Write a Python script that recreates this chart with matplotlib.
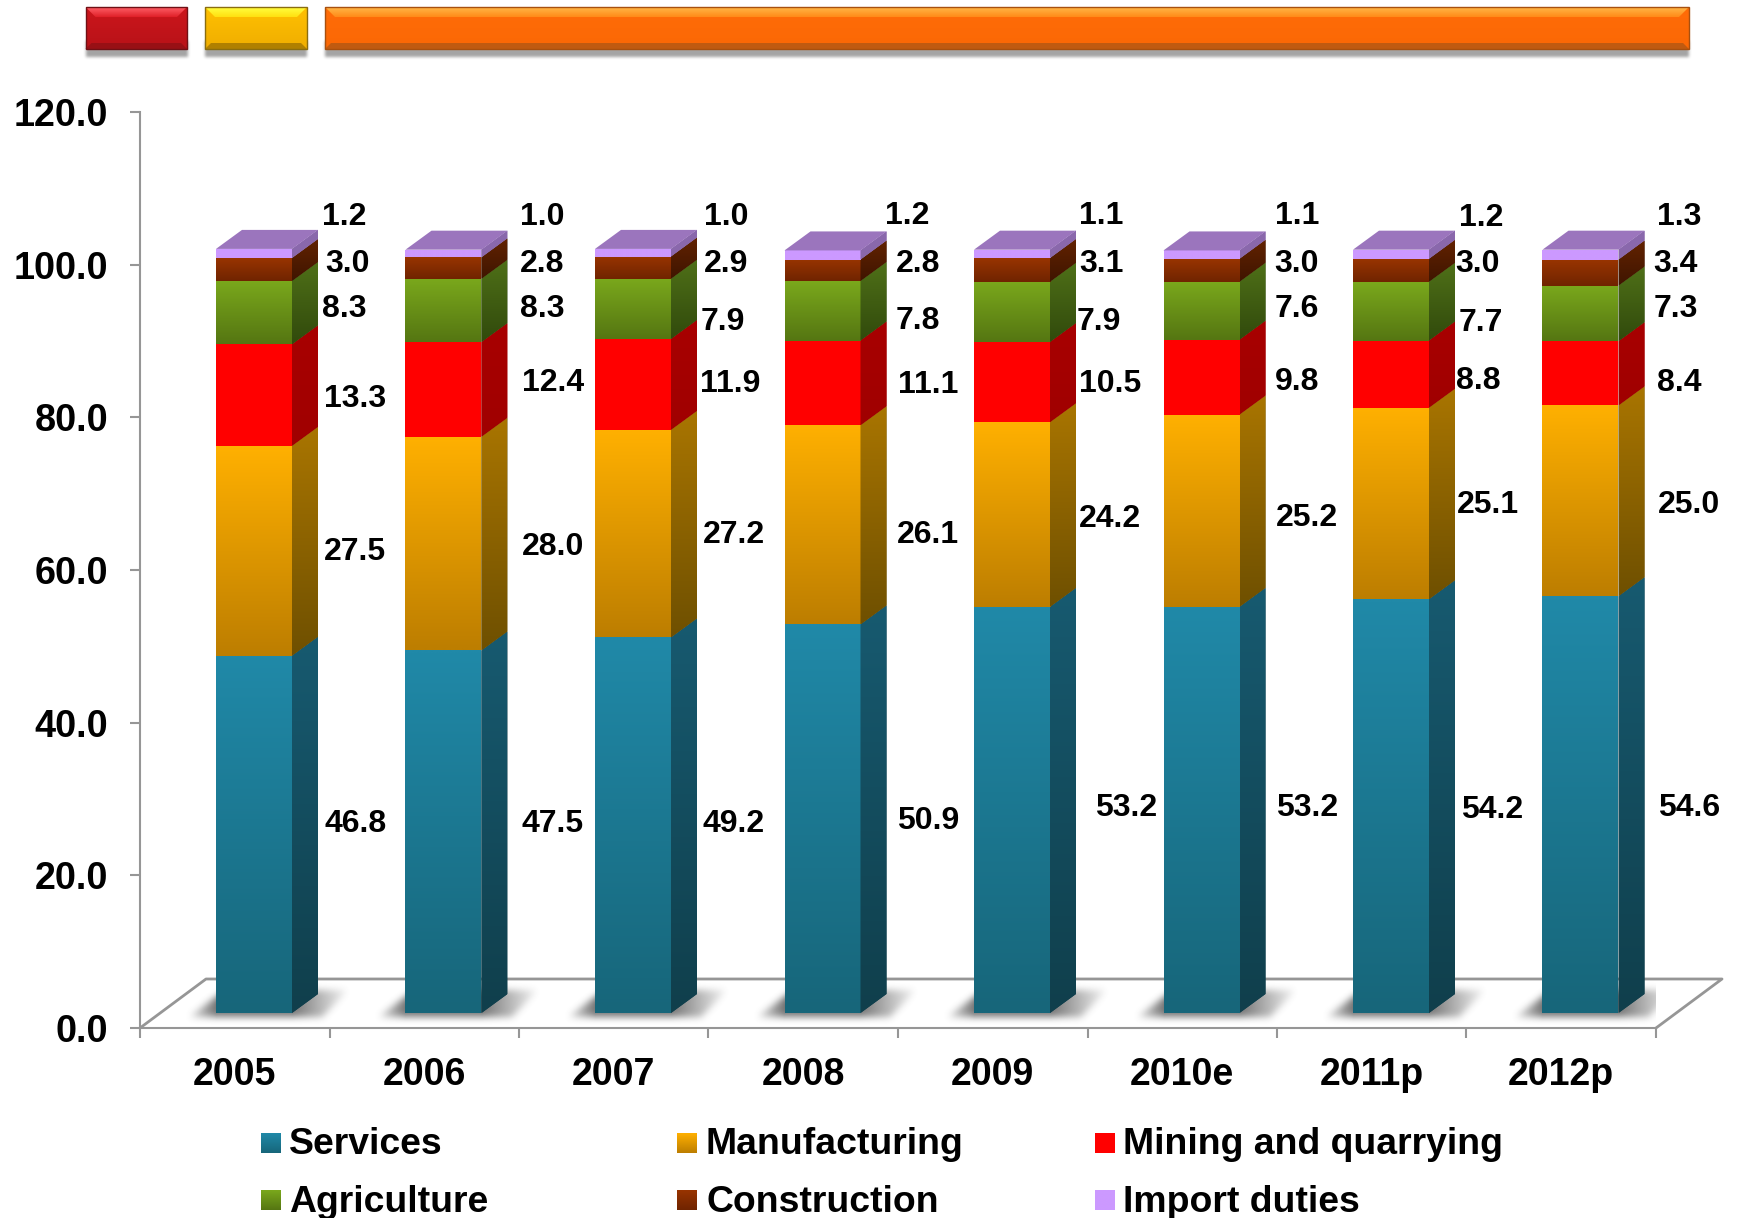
import numpy as np
import matplotlib
matplotlib.use('Agg')
import matplotlib.pyplot as plt
from matplotlib.colors import to_rgb
from matplotlib.patches import Polygon

plt.rcParams['font.family'] = ['Liberation Sans', 'DejaVu Sans']
plt.rcParams['font.weight'] = 'bold'

# data
years = ['2005', '2006', '2007', '2008', '2009', '2010e', '2011p', '2012p']
services = [46.8, 47.5, 49.2, 50.9, 53.2, 53.2, 54.2, 54.6]
manufacturing = [27.5, 28.0, 27.2, 26.1, 24.2, 25.2, 25.1, 25.0]
mining = [13.3, 12.4, 11.9, 11.1, 10.5, 9.8, 8.8, 8.4]
agriculture = [8.3, 8.3, 7.9, 7.8, 7.9, 7.6, 7.7, 7.3]
construction = [3.0, 2.8, 2.9, 2.8, 3.1, 3.0, 3.0, 3.4]
import_duties = [1.2, 1.0, 1.0, 1.2, 1.1, 1.1, 1.2, 1.3]
y_ticks = [0, 20, 40, 60, 80, 100, 120]
series_names = ['Services', 'Manufacturing', 'Mining and quarrying',
                'Agriculture', 'Construction', 'Import duties']
series_values = [services, manufacturing, mining, agriculture, construction, import_duties]

# colours: front top, front bottom, side top, side bottom
series_colors = [
    ('#2089a8', '#17667a', '#175a70', '#103f4c'),
    ('#ffb000', '#bd7e00', '#a97500', '#6f5000'),
    ('#ff0000', '#ff0000', '#a80000', '#a00000'),
    ('#7aa81c', '#557612', '#4f7018', '#314a0c'),
    ('#983400', '#702400', '#622200', '#3f1500'),
    ('#cc99ff', '#cc99ff', '#8a68ac', '#8a68ac'),
]
top_color = '#9b75bd'

# hand placed data labels in the picture, one row per series, pixels of the 1568 wide view
label_x = [
    [320, 498, 661, 836, 1014, 1177, 1344, 1521],
    [320, 498, 661, 836, 1000, 1177, 1340, 1521],
    [320, 498, 658, 836, 1000, 1168, 1331, 1512],
    [310, 488, 651, 827, 990, 1168, 1334, 1509],
    [313, 488, 654, 827, 992, 1168, 1331, 1509],
    [310, 488, 654, 817, 992, 1168, 1334, 1512],
]
label_y = [
    [739, 739, 739, 737, 725, 725, 727, 725],
    [494, 490, 479, 479, 465, 464, 452, 452],
    [357, 342, 343, 344, 343, 341, 340, 342],
    [276, 276, 287, 286, 287, 276, 288, 276],
    [235, 235, 235, 235, 235, 235, 235, 235],
    [193, 193, 193, 192, 192, 192, 194, 193],
]
view_scale = 1741 / 1568

# layout in figure pixels
axis_left, axis_right, axis_bottom, axis_top = 140, 1656, 1028, 112
px_per_slot = (axis_right - axis_left) / 8
px_per_unit = (axis_bottom - axis_top) / 120
bar_offset = 76 / px_per_slot
bar_width = 76 / px_per_slot
depth_x = 26 / px_per_slot
depth_y = 19 / px_per_unit
bar_base = 15 / px_per_unit
floor_dx = 66 / px_per_slot
floor_dy = 49 / px_per_unit
axis_color = '#969696'


def gradient(ax, extent, top, bottom, clip=None, zorder=3):
    t = np.linspace(0, 1, 64)[:, None, None]
    rgb = (1 - t) * np.array(to_rgb(top)) + t * np.array(to_rgb(bottom))
    im = ax.imshow(rgb, extent=extent, origin='upper', aspect='auto',
                   interpolation='bilinear', zorder=zorder)
    if clip is not None:
        im.set_clip_path(clip)
    return im


def blur(a, size):
    kernel = np.ones(size) / size
    for _ in range(3):
        a = np.apply_along_axis(lambda r: np.convolve(r, kernel, mode='same'), 0, a)
        a = np.apply_along_axis(lambda r: np.convolve(r, kernel, mode='same'), 1, a)
    return a


def make_floor_shadow():
    # pixel grid around a bar: x -60..170 from the bar's left edge, y 975..1027
    xx, yy = np.meshgrid(np.arange(-60, 170), np.arange(975, 1027))
    t = (yy - 990) / 26
    inside = (t >= 0) & (t <= 1) & (xx >= 8 - 36 * t) & (xx <= 132 - 26 * t)
    a = blur(inside.astype(float), 7)
    fade = np.clip((xx + 34) / 34, 0, 1) * np.clip((136 - xx) / 60, 0, 1)
    out = np.zeros(a.shape + (4,))
    out[..., :3] = 0.33
    out[..., 3] = a * fade * 0.8
    return out


def bevel_box(ax, x0, x1, y0, y1, colors):
    light_top, light_bot, mid, mid_bot, dark, edge = colors
    b = 10
    # soft shadow below the box
    sh = np.zeros((30, int(x1 - x0) + 16))
    sh[8:24, 8:-8] = 1
    sh = blur(sh, 3)
    rgba = np.zeros(sh.shape + (4,))
    rgba[..., :3] = 0.35
    rgba[..., 3] = sh * 0.55
    ax.imshow(rgba, extent=(x0 - 8, x1 + 8, y1 + 14, y1 - 16), origin='upper',
              aspect='auto', zorder=1)
    p = Polygon([(x0, y0), (x1, y0), (x1, y1), (x0, y1)], fc='none', ec=edge, lw=1.0, zorder=3)
    ax.add_patch(p)
    gradient(ax, (x0, x1, y1, y0), mid, mid_bot, clip=p, zorder=2.5)
    tp = Polygon([(x0, y0), (x1, y0), (x1 - b, y0 + b), (x0 + b, y0 + b)], fc='none', ec='none', zorder=2)
    ax.add_patch(tp)
    gradient(ax, (x0, x1, y0 + b, y0), light_top, light_bot, clip=tp, zorder=2.6)
    bt = Polygon([(x0, y1), (x1, y1), (x1 - 6, y1 - 6), (x0 + 6, y1 - 6)], fc=dark, ec='none', zorder=2.7)
    ax.add_patch(bt)


fig = plt.figure(figsize=(17.41, 12.18), dpi=100)

# pixel overlay for the banner, legend and hand placed labels
over = fig.add_axes([0, 0, 1, 1], zorder=2)
over.patch.set_alpha(0)
over.axis('off')

bevel_box(over, 85.5, 187, 7, 49, ('#ff6068', '#e02028', '#cc161c', '#b81218', '#981015', '#701015'))
bevel_box(over, 205, 307, 7, 49, ('#ffff40', '#ffe010', '#ffc000', '#f0ae00', '#b08000', '#8a6d10'))
bevel_box(over, 325, 1689, 7, 49, ('#ffb848', '#ff8a18', '#ff6c08', '#fb6805', '#c05a10', '#a8500f'))

# main chart
ax = fig.add_axes([axis_left / 1741, 1 - axis_bottom / 1218,
                   (axis_right - axis_left) / 1741, (axis_bottom - axis_top) / 1218], zorder=1)
ax.patch.set_alpha(0)

# floor of the 3D box
ax.plot([0, floor_dx, 8 + floor_dx, 8], [0, floor_dy, floor_dy, 0],
        color=axis_color, lw=2, clip_on=False, zorder=1)

x = np.arange(len(years))
shadow = make_floor_shadow()
for i in x:
    left = i + bar_offset
    ax.imshow(shadow, extent=(left - 60 / px_per_slot, left + 170 / px_per_slot,
                              (1028 - 1027) / px_per_unit, (1028 - 975) / px_per_unit),
              origin='upper', aspect='auto', zorder=2, interpolation='bilinear')

bottom = np.full(len(years), bar_base)
for values, colors in zip(series_values, series_colors):
    values = np.array(values)
    bars = ax.bar(x + bar_offset + bar_width / 2, values, bar_width, bottom=bottom,
                  color=colors[0], linewidth=0, zorder=3)
    for b, v, y0 in zip(bars, values, bottom):
        x0, x1 = b.get_x(), b.get_x() + b.get_width()
        gradient(ax, (x0, x1, y0, y0 + v), colors[0], colors[1], clip=b, zorder=3.1)
        side = Polygon([(x1, y0), (x1 + depth_x, y0 + depth_y),
                        (x1 + depth_x, y0 + v + depth_y), (x1, y0 + v)],
                       fc=colors[3], ec='none', zorder=3)
        ax.add_patch(side)
        gradient(ax, (x1, x1 + depth_x, y0, y0 + v + depth_y), colors[2], colors[3], clip=side, zorder=3.1)
    bottom = bottom + values

# top face of each stack
for i, top in zip(x, bottom):
    x0 = i + bar_offset
    x1 = x0 + bar_width
    ax.add_patch(Polygon([(x0, top), (x1, top), (x1 + depth_x, top + depth_y), (x0 + depth_x, top + depth_y)],
                         fc=top_color, ec='none', zorder=3.2))

ax.set_xlim(0, 8)
ax.set_ylim(0, 120)
ax.spines['top'].set_visible(False)
ax.spines['right'].set_visible(False)
ax.spines['left'].set_color(axis_color)
ax.spines['bottom'].set_color(axis_color)
ax.spines['left'].set_linewidth(1.5)
ax.spines['bottom'].set_linewidth(1.5)
ax.set_yticks(y_ticks)
ax.set_yticklabels(['%.1f' % t for t in y_ticks], fontsize=27.2, fontweight='bold')
ax.set_xticks(np.arange(9))
ax.set_xticklabels([])
ax.set_xticks(x + 0.5, minor=True)
ax.set_xticklabels(years, minor=True, fontsize=27, fontweight='bold')
ax.tick_params(axis='y', length=7, width=1.5, color=axis_color, pad=16)
ax.tick_params(axis='x', which='major', length=7, width=1.5, color=axis_color)
ax.tick_params(axis='x', which='minor', length=0, pad=21)

# data labels
for vals, xs, ys in zip(series_values, label_x, label_y):
    for v, lx, ly in zip(vals, xs, ys):
        over.text(lx * view_scale, ly * view_scale + 3, '%.1f' % v, fontsize=23, fontweight='bold',
                  ha='center', va='center', color='black', zorder=6)

# legend
legend_x = [261, 677, 1095]
legend_text_x = [289, 706, 1123]
legend_y = [1143, 1200]
for n, (name, colors) in enumerate(zip(series_names, series_colors)):
    col, row = n % 3, n // 3
    sx, sy = legend_x[col], legend_y[row]
    gradient(over, (sx, sx + 20, sy + 10, sy - 10), colors[0], colors[1], zorder=3)
    over.text(legend_text_x[col], sy + 2, name, fontsize=26.9, fontweight='bold', ha='left', va='center')

over.set_xlim(0, 1741)
over.set_ylim(1218, 0)

fig.savefig('out.png', dpi=100)
